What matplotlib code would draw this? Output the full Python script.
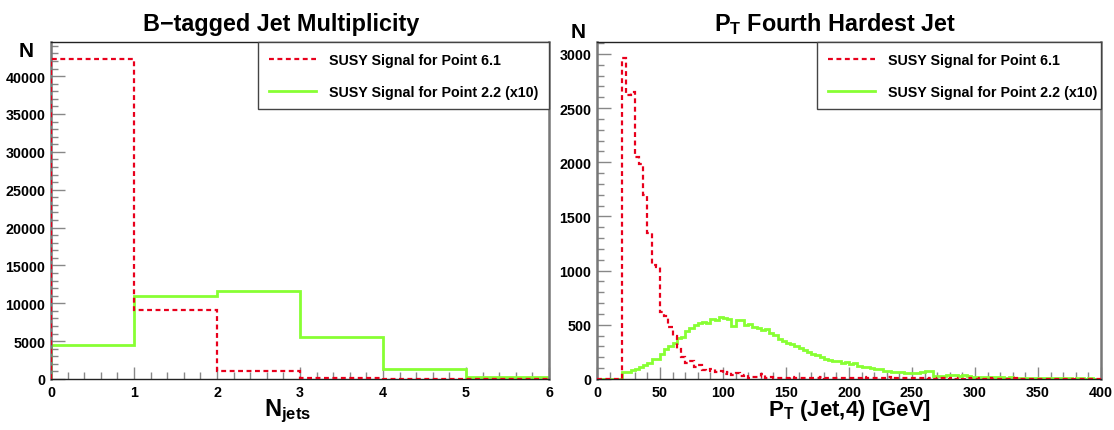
import numpy as np
import matplotlib
matplotlib.use('Agg')
import matplotlib.pyplot as plt
from matplotlib.ticker import MultipleLocator

# ---- data ----
njet_edges = [0, 1, 2, 3, 4, 5, 6]
btag_p61 = [42300, 9150, 1100, 120, 30, 10]
btag_p22 = [4450, 10900, 11650, 5480, 1350, 200]

pt_lo, pt_hi, pt_nbins = 0, 400, 120
pt4_p61 = [0, 0, 0, 0, 0, 0,
           2960, 2620, 2650, 2050, 1980, 1700, 1350, 1050, 1030,
           620, 580, 480, 400, 280, 200, 150, 170, 110, 130,
           80, 70, 90, 60, 70, 50, 60, 40, 55, 30,
           40, 10, 15, 20, 45, 10, 15, 8, 12, 10,
           8, 15, 10, 6, 12, 8, 10, 5, 14, 6,
           8, 10, 5, 12, 7, 9, 6, 10, 15, 5,
           8, 12, 6, 8, 15, 4, 7, 10, 5, 6,
           8, 5, 10, 4, 6, 3, 8, 12, 4, 5,
           3, 6, 4, 5, 2, 4, 6, 3, 5, 2,
           3, 4, 2, 3, 5, 2, 3, 1, 2, 4,
           2, 1, 3, 2, 1, 2, 0, 1, 2, 1,
           0, 1, 2, 0, 1]
pt4_p22 = [0, 0, 0, 0, 0, 0,
           60, 60, 80, 90, 110, 130, 150, 180, 185,
           230, 280, 300, 330, 380, 390, 440, 470, 500, 520,
           530, 520, 550, 545, 570, 565, 550, 490, 540, 545,
           500, 510, 480, 470, 450, 460, 420, 410, 370, 350,
           330, 320, 300, 290, 270, 250, 230, 220, 200, 180,
           175, 165, 170, 150, 160, 140, 145, 120, 110, 115,
           100, 90, 95, 75, 78, 65, 60, 62, 55, 58,
           55, 52, 60, 72, 75, 30, 25, 28, 35, 38,
           35, 32, 35, 30, 20, 18, 22, 15, 17, 20,
           14, 16, 12, 15, 10, 13, 11, 9, 12, 8,
           10, 7, 9, 6, 8, 5, 7, 6, 4, 6,
           5, 4, 5, 3, 4]

lbl_p61 = 'SUSY Signal for Point 6.1'
lbl_p22 = 'SUSY Signal for Point 2.2 (x10)'

plt.rcParams['font.family'] = ['Liberation Sans', 'DejaVu Sans']
plt.rcParams['font.weight'] = 'bold'
plt.rcParams['mathtext.fontset'] = 'custom'
plt.rcParams['mathtext.rm'] = 'Liberation Sans:bold'
plt.rcParams['mathtext.it'] = 'Liberation Sans:bold'
plt.rcParams['mathtext.bf'] = 'Liberation Sans:bold'

RED = '#e8001c'
GREEN = '#88ff33'
W, H = 1114, 431

fig = plt.figure(figsize=(W / 100, H / 100), dpi=100)


def make_axes(x0, x1, y0=43, y1=380):
    return fig.add_axes([x0 / W, (H - y1) / H, (x1 - x0) / W, (y1 - y0) / H])


def style(ax, xmaj, xmin, ymaj, ymin):
    ax.xaxis.set_major_locator(MultipleLocator(xmaj))
    ax.xaxis.set_minor_locator(MultipleLocator(xmin))
    ax.yaxis.set_major_locator(MultipleLocator(ymaj))
    ax.yaxis.set_minor_locator(MultipleLocator(ymin))
    ax.tick_params(which='both', direction='in', color='#888888', width=1,
                   labelsize=10.3, top=False, right=False)
    ax.tick_params(axis='y', which='major', length=10, pad=4)
    ax.tick_params(axis='y', which='minor', length=5)
    ax.tick_params(axis='x', which='major', length=9, pad=4)
    ax.tick_params(axis='x', which='minor', length=5)
    for s in ['left', 'right']:
        ax.spines[s].set_color('#777777')
        ax.spines[s].set_linewidth(1.8)
    for s in ['top', 'bottom']:
        ax.spines[s].set_color('#222222')
        ax.spines[s].set_linewidth(1.0)


def add_legend(ax, x0, h):
    # ROOT draws the 6.1 entry first
    hs, ls_ = ax.get_legend_handles_labels()
    leg = ax.legend(hs[::-1], ls_[::-1], loc='upper left',
                    bbox_to_anchor=(x0, 1 - h, 1 - x0, h), mode='expand',
                    borderaxespad=0, fancybox=False, framealpha=1,
                    edgecolor='#444444', fontsize=10.3, handlelength=3.3,
                    handletextpad=0.9, labelspacing=1.25, borderpad=0.75)
    leg.get_frame().set_linewidth(1.0)


# ---- left: b-tagged jet multiplicity ----
ax1 = make_axes(51, 549)
ax1.stairs(btag_p22, njet_edges, color=GREEN, lw=2.0, label=lbl_p22, zorder=2)
ax1.stairs(btag_p61, njet_edges, color=RED, lw=1.6, ls=(0, (2.2, 1.6)),
           label=lbl_p61, zorder=3)
ax1.set_xlim(0, 6)
ax1.set_ylim(0, 44500)
style(ax1, 1, 0.2, 5000, 1000)
add_legend(ax1, 0.416, 0.17)

# ---- right: pT of fourth hardest jet ----
pt_edges = np.linspace(pt_lo, pt_hi, pt_nbins + 1)
ax2 = make_axes(597, 1101)
ax2.stairs(pt4_p22, pt_edges, color=GREEN, lw=2.0, label=lbl_p22, zorder=2)
ax2.stairs(pt4_p61, pt_edges, color=RED, lw=1.6, ls=(0, (2.2, 1.6)),
           label=lbl_p61, zorder=3)
ax2.set_xlim(pt_lo, pt_hi)
ax2.set_ylim(0, 3110)
style(ax2, 50, 10, 500, 100)
add_legend(ax2, 0.4365, 0.184)

# titles and axis labels, placed like the ROOT canvas
fig.text(281 / W, 1 - 31 / H, 'B\u2212tagged Jet Multiplicity', ha='center',
         va='baseline', fontsize=16.8, fontweight='bold')
fig.text(835 / W, 1 - 31 / H, r'P$_\mathrm{T}$ Fourth Hardest Jet',
         ha='center', va='baseline', fontsize=16.8, fontweight='bold')
fig.text(26 / W, 1 - 57 / H, 'N', ha='center', va='baseline', fontsize=15,
         fontweight='bold')
fig.text(578 / W, 1 - 38 / H, 'N', ha='center', va='baseline', fontsize=15,
         fontweight='bold')
fig.text(288 / W, 1 - 416 / H, r'N$_\mathrm{jets}$', ha='center',
         va='baseline', fontsize=17, fontweight='bold')
fig.text(850 / W, 1 - 416 / H, r'P$_\mathrm{T}$ (Jet,4) [GeV]', ha='center',
         va='baseline', fontsize=16, fontweight='bold')

fig.savefig('out.png', dpi=100)
